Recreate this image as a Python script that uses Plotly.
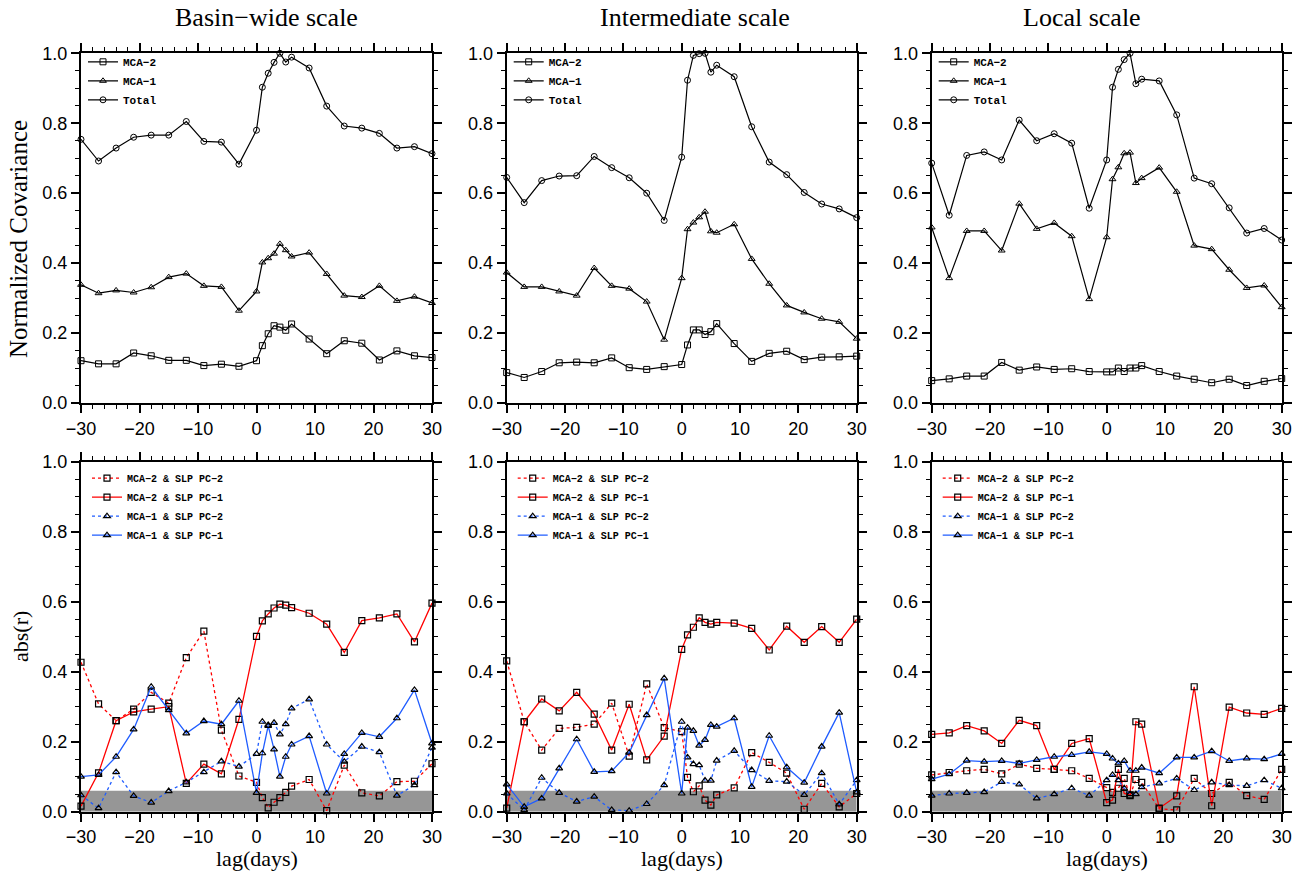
import plotly.graph_objects as go
from plotly.subplots import make_subplots

# ---------------- data ----------------
lags = [-30, -27, -24, -21, -18, -15, -12, -9, -6, -3, 0, 1, 2, 3, 4, 5, 6, 9, 12, 15, 18, 21, 24, 27, 30]

panel_titles = ["Basin\u2212wide scale", "Intermediate scale", "Local scale"]

# top row: normalized covariance
basin_mca2 = [0.121, 0.112, 0.112, 0.143, 0.135, 0.122, 0.122, 0.107, 0.111, 0.105, 0.121, 0.164, 0.198, 0.221, 0.217, 0.208, 0.226, 0.183, 0.141, 0.178, 0.171, 0.123, 0.149, 0.135, 0.130]
basin_mca1 = [0.338, 0.314, 0.322, 0.316, 0.331, 0.360, 0.370, 0.335, 0.332, 0.264, 0.319, 0.402, 0.414, 0.427, 0.455, 0.437, 0.419, 0.430, 0.369, 0.307, 0.303, 0.335, 0.292, 0.304, 0.286]
basin_total = [0.754, 0.692, 0.729, 0.760, 0.766, 0.766, 0.805, 0.748, 0.746, 0.683, 0.780, 0.903, 0.943, 0.974, 1.000, 0.975, 0.989, 0.958, 0.849, 0.792, 0.786, 0.771, 0.729, 0.733, 0.713]

inter_mca2 = [0.087, 0.073, 0.090, 0.115, 0.117, 0.115, 0.129, 0.101, 0.096, 0.104, 0.110, 0.166, 0.209, 0.209, 0.196, 0.204, 0.227, 0.170, 0.119, 0.142, 0.148, 0.124, 0.131, 0.132, 0.134]
inter_mca1 = [0.373, 0.332, 0.332, 0.319, 0.307, 0.386, 0.335, 0.327, 0.290, 0.181, 0.357, 0.497, 0.516, 0.531, 0.547, 0.491, 0.487, 0.511, 0.412, 0.341, 0.279, 0.259, 0.241, 0.232, 0.184]
inter_total = [0.645, 0.573, 0.636, 0.649, 0.650, 0.705, 0.673, 0.644, 0.600, 0.522, 0.703, 0.923, 0.994, 0.999, 1.000, 0.946, 0.966, 0.933, 0.790, 0.689, 0.653, 0.602, 0.569, 0.555, 0.530]

local_mca2 = [0.064, 0.069, 0.077, 0.077, 0.116, 0.094, 0.103, 0.096, 0.098, 0.090, 0.089, 0.089, 0.100, 0.090, 0.100, 0.100, 0.107, 0.090, 0.077, 0.068, 0.058, 0.068, 0.050, 0.062, 0.070]
local_mca1 = [0.502, 0.357, 0.492, 0.492, 0.436, 0.570, 0.498, 0.515, 0.477, 0.297, 0.474, 0.640, 0.674, 0.714, 0.716, 0.629, 0.643, 0.673, 0.604, 0.450, 0.440, 0.381, 0.329, 0.336, 0.274]
local_total = [0.686, 0.537, 0.708, 0.718, 0.695, 0.809, 0.750, 0.770, 0.743, 0.557, 0.695, 0.903, 0.954, 0.982, 1.000, 0.913, 0.926, 0.921, 0.824, 0.643, 0.627, 0.558, 0.486, 0.499, 0.466]

# bottom row: abs(r)
basin_m2pc2 = [0.427, 0.308, 0.260, 0.293, 0.341, 0.310, 0.440, 0.516, 0.233, 0.102, 0.084, 0.040, 0.011, 0.027, 0.040, 0.055, 0.073, 0.092, 0.003, 0.133, 0.054, 0.045, 0.086, 0.087, 0.137]
basin_m2pc1 = [0.016, 0.111, 0.260, 0.285, 0.293, 0.300, 0.081, 0.136, 0.108, 0.264, 0.501, 0.545, 0.565, 0.582, 0.593, 0.590, 0.583, 0.567, 0.536, 0.455, 0.546, 0.554, 0.565, 0.485, 0.596]
basin_m1pc2 = [0.047, 0.010, 0.113, 0.045, 0.026, 0.059, 0.084, 0.113, 0.144, 0.129, 0.165, 0.257, 0.248, 0.254, 0.221, 0.250, 0.295, 0.321, 0.192, 0.143, 0.186, 0.170, 0.046, 0.076, 0.183]
basin_m1pc1 = [0.100, 0.105, 0.157, 0.235, 0.357, 0.290, 0.224, 0.259, 0.250, 0.317, 0.054, 0.167, 0.245, 0.178, 0.100, 0.157, 0.192, 0.216, 0.052, 0.165, 0.225, 0.214, 0.267, 0.348, 0.195]

inter_m2pc2 = [0.431, 0.257, 0.176, 0.238, 0.241, 0.250, 0.310, 0.159, 0.365, 0.240, 0.229, 0.098, 0.057, 0.074, 0.033, 0.019, 0.048, 0.068, 0.169, 0.141, 0.110, 0.007, 0.081, 0.014, 0.052]
inter_m2pc1 = [0.010, 0.257, 0.322, 0.288, 0.341, 0.279, 0.176, 0.307, 0.148, 0.216, 0.464, 0.505, 0.527, 0.554, 0.541, 0.536, 0.541, 0.539, 0.524, 0.462, 0.530, 0.484, 0.529, 0.484, 0.550]
inter_m1pc2 = [0.052, 0.005, 0.097, 0.054, 0.029, 0.043, 0.005, 0.003, 0.022, 0.076, 0.257, 0.155, 0.136, 0.133, 0.089, 0.089, 0.146, 0.174, 0.119, 0.088, 0.086, 0.048, 0.110, 0.021, 0.090]
inter_m1pc1 = [0.078, 0.014, 0.038, 0.124, 0.207, 0.114, 0.116, 0.169, 0.276, 0.381, 0.052, 0.240, 0.231, 0.189, 0.205, 0.248, 0.243, 0.267, 0.071, 0.217, 0.127, 0.083, 0.186, 0.283, 0.055]

local_m2pc2 = [0.105, 0.112, 0.117, 0.121, 0.108, 0.136, 0.124, 0.121, 0.117, 0.095, 0.069, 0.055, 0.067, 0.095, 0.046, 0.092, 0.084, 0.008, 0.005, 0.095, 0.052, 0.084, 0.046, 0.035, 0.121]
local_m2pc1 = [0.221, 0.225, 0.246, 0.231, 0.195, 0.261, 0.246, 0.121, 0.195, 0.209, 0.026, 0.033, 0.121, 0.052, 0.048, 0.257, 0.250, 0.010, 0.045, 0.357, 0.017, 0.299, 0.282, 0.278, 0.295]
local_m1pc2 = [0.046, 0.052, 0.054, 0.056, 0.085, 0.078, 0.038, 0.050, 0.067, 0.046, 0.090, 0.105, 0.090, 0.067, 0.050, 0.050, 0.070, 0.081, 0.095, 0.062, 0.084, 0.076, 0.074, 0.090, 0.067]
local_m1pc1 = [0.093, 0.107, 0.146, 0.143, 0.145, 0.138, 0.148, 0.157, 0.162, 0.171, 0.165, 0.152, 0.138, 0.145, 0.117, 0.117, 0.126, 0.110, 0.155, 0.155, 0.173, 0.145, 0.152, 0.150, 0.165]

sig_level = 0.06  # shaded significance band upper bound

top_data = [(basin_mca2, basin_mca1, basin_total),
            (inter_mca2, inter_mca1, inter_total),
            (local_mca2, local_mca1, local_total)]
bot_data = [(basin_m2pc2, basin_m2pc1, basin_m1pc2, basin_m1pc1),
            (inter_m2pc2, inter_m2pc1, inter_m1pc2, inter_m1pc1),
            (local_m2pc2, local_m2pc1, local_m1pc2, local_m1pc1)]

# ---------------- figure ----------------
W, H = 1302, 877
RED = "#ff0000"
BLUE = "#1f5cff"

fig = make_subplots(rows=2, cols=3)

col_px = [(81, 432), (506.7, 856.7), (931.7, 1281.7)]
row_px = [(53.3, 403), (461.7, 811.7)]

def px_x(p):
    return p / W

def px_y(p):
    return 1 - p / H

top_legend_font = dict(family="Liberation Mono", size=11, color="black", weight="bold")
bot_legend_font = dict(family="Liberation Mono", size=10, color="black", weight="bold")

for c in range(3):
    # top row
    lg = "legend" if c == 0 else f"legend{c + 1}"
    m2, m1, tot = top_data[c]
    for name, vals, sym in [("MCA\u22122", m2, "square-open"),
                            ("MCA\u22121", m1, "triangle-up-open"),
                            ("Total", tot, "circle-open")]:
        fig.add_trace(go.Scatter(x=lags, y=vals, name=name, mode="lines+markers",
                                 line=dict(color="black", width=1.2),
                                 marker=dict(symbol=sym, size=6, color="black", line=dict(width=1)),
                                 cliponaxis=False, legend=lg), row=1, col=c + 1)
    # bottom row
    lg2 = f"legend{c + 4}"
    a, b, d, e = bot_data[c]
    for name, vals, color, dash, sym in [("MCA\u22122 & SLP PC\u22122", a, RED, "3px,3px", "square-open"),
                                         ("MCA\u22122 & SLP PC\u22121", b, RED, "solid", "square-open"),
                                         ("MCA\u22121 & SLP PC\u22122", d, BLUE, "3px,3px", "triangle-up-open"),
                                         ("MCA\u22121 & SLP PC\u22121", e, BLUE, "solid", "triangle-up-open")]:
        fig.add_trace(go.Scatter(x=lags, y=vals, name=name, mode="lines+markers",
                                 line=dict(color=color, width=1.3, dash=dash),
                                 marker=dict(symbol=sym, size=6, color="black", line=dict(width=1.2)),
                                 cliponaxis=False, legend=lg2), row=2, col=c + 1)

axis_common = dict(showline=True, linewidth=2, linecolor="black", mirror="allticks",
                   ticks="outside", ticklen=8, tickwidth=1.5, tickcolor="black",
                   showgrid=False, zeroline=False, automargin=False,
                   tickfont=dict(family="Liberation Sans", size=18, color="black"))

layout_upd = {}
for r in range(2):
    for c in range(3):
        idx = r * 3 + c + 1
        sfx = "" if idx == 1 else str(idx)
        layout_upd[f"xaxis{sfx}"] = dict(axis_common, range=[-30, 30], tick0=0, dtick=10,
                                         domain=[px_x(col_px[c][0]), px_x(col_px[c][1])],
                                         minor=dict(dtick=2, ticks="outside", ticklen=4, tickwidth=1,
                                                    tickcolor="black", showgrid=False))
        layout_upd[f"yaxis{sfx}"] = dict(axis_common, range=[0, 1], tick0=0, dtick=0.2, tickformat=".1f",
                                         domain=[px_y(row_px[r][1]), px_y(row_px[r][0])],
                                         minor=dict(dtick=0.05, ticks="outside", ticklen=4, tickwidth=1,
                                                    tickcolor="black", showgrid=False))
fig.update_layout(**layout_upd)

# shaded band in bottom panels
for c in range(3):
    idx = 4 + c
    fig.add_shape(type="rect", xref=f"x{idx}", yref=f"y{idx}", x0=-30, x1=30, y0=0, y1=sig_level,
                  fillcolor="#969696", line=dict(width=0), layer="below")

# legends
legends = {}
for c in range(3):
    key = "legend" if c == 0 else f"legend{c + 1}"
    legends[key] = dict(x=px_x(col_px[c][0] + 2), y=px_y(row_px[0][0] - 6), xanchor="left", yanchor="top",
                        bgcolor="rgba(0,0,0,0)", borderwidth=0, font=top_legend_font,
                        itemwidth=30, tracegroupgap=0)
    legends[f"legend{c + 4}"] = dict(x=px_x(col_px[c][0] + 6), y=px_y(row_px[1][0] + 2), xanchor="left",
                                     yanchor="top", bgcolor="rgba(0,0,0,0)", borderwidth=0,
                                     font=bot_legend_font, itemwidth=30, tracegroupgap=0)
fig.update_layout(**legends)

# titles and axis labels
serif = "Liberation Serif"
title_cx = [266.7, 695, 1082]
annotations = []
for c in range(3):
    annotations.append(dict(text=panel_titles[c], x=px_x(title_cx[c]), y=px_y(18), xref="paper", yref="paper",
                            showarrow=False, xanchor="center", yanchor="middle",
                            font=dict(family=serif, size=26, color="black")))
    annotations.append(dict(text="lag(days)", x=px_x((col_px[c][0] + col_px[c][1]) / 2), y=px_y(858),
                            xref="paper", yref="paper", showarrow=False, xanchor="center", yanchor="middle",
                            font=dict(family=serif, size=22, color="black")))
annotations.append(dict(text="Normalized Covariance", x=px_x(18), y=px_y(239), xref="paper", yref="paper",
                        showarrow=False, textangle=-90, xanchor="center", yanchor="middle",
                        font=dict(family=serif, size=25, color="black")))
annotations.append(dict(text="abs(r)", x=px_x(20), y=px_y(637), xref="paper", yref="paper",
                        showarrow=False, textangle=-90, xanchor="center", yanchor="middle",
                        font=dict(family=serif, size=22, color="black")))

fig.update_layout(annotations=annotations, width=W, height=H,
                  margin=dict(l=0, r=0, t=0, b=0, autoexpand=False),
                  paper_bgcolor="white", plot_bgcolor="white", showlegend=True)

fig.write_html("out.html")
